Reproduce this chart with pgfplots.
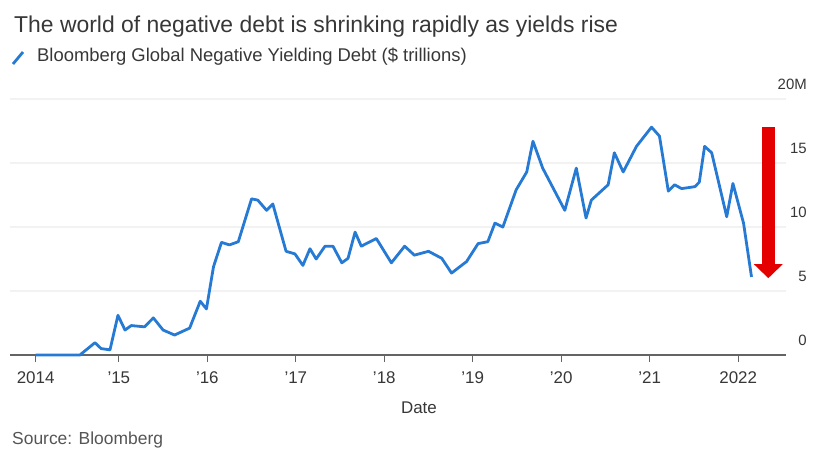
\documentclass[border=0pt]{standalone}
\usepackage{pgfplots}
\pgfplotsset{compat=1.18}
\usepackage{fontspec}
\setmainfont{Liberation Sans}
\usetikzlibrary{arrows.meta}
\definecolor{bbblue}{RGB}{38,122,212}
\definecolor{bbred}{RGB}{228,0,0}
\definecolor{txt}{RGB}{55,55,55}
\definecolor{axisgray}{RGB}{100,100,100}

\pgfplotstableread{
date value
2014.06 0.0
2014.56 0.0
2014.73 0.96
2014.80 0.5
2014.90 0.4
2014.99 3.1
2015.07 1.95
2015.14 2.3
2015.29 2.2
2015.39 2.9
2015.50 1.95
2015.63 1.56
2015.80 2.1
2015.92 4.2
2015.99 3.6
2016.07 6.9
2016.16 8.8
2016.25 8.6
2016.35 8.85
2016.50 12.2
2016.57 12.1
2016.67 11.3
2016.74 11.8
2016.89 8.1
2016.99 7.9
2017.08 7.0
2017.16 8.3
2017.23 7.5
2017.33 8.5
2017.42 8.5
2017.52 7.2
2017.59 7.55
2017.67 9.6
2017.74 8.5
2017.91 9.1
2018.08 7.2
2018.23 8.5
2018.34 7.8
2018.50 8.1
2018.65 7.55
2018.76 6.4
2018.93 7.3
2019.06 8.7
2019.17 8.85
2019.25 10.3
2019.34 10.0
2019.49 12.9
2019.61 14.3
2019.68 16.7
2019.79 14.6
2020.04 11.3
2020.17 14.6
2020.28 10.7
2020.34 12.1
2020.53 13.3
2020.60 15.8
2020.70 14.3
2020.85 16.3
2021.02 17.8
2021.11 17.1
2021.21 12.8
2021.28 13.3
2021.36 13.0
2021.51 13.15
2021.56 13.5
2021.62 16.3
2021.70 15.8
2021.87 10.8
2021.94 13.4
2022.06 10.3
2022.15 6.1
}\debt

\begin{document}
\begin{tikzpicture}[x=1bp,y=1bp]
\useasboundingbox (0,0) rectangle (817,450);
\node[anchor=west, inner sep=0pt, text=txt, font=\fontsize{23}{27}\selectfont] at (14,423) {The world of negative debt is shrinking rapidly as yields rise};
\draw[bbblue, line width=2.8bp] (13,386) -- (23,398);
\node[anchor=west, inner sep=0pt, text=txt, font=\fontsize{18.5}{21}\selectfont] at (37,393) {Bloomberg Global Negative Yielding Debt (\$ trillions)};
\node[anchor=west, inner sep=0pt, text=txt!85, font=\fontsize{17.5}{20}\selectfont] at (12,10) {Source: Bloomberg};
\begin{axis}[
  at={(10bp,95bp)}, anchor=south west,
  scale only axis, width=776bp, height=256bp,
  xmin=2013.77, xmax=2022.54, ymin=0, ymax=20,
  clip=false,
  axis x line*=bottom, axis y line*=right,
  x axis line style={draw=axisgray, line width=1.4bp, -},
  y axis line style={draw=none},
  xtick={2014.06,2015,2016,2017,2018,2019,2020,2021,2022},
  xticklabels={2014,{'}15,{'}16,{'}17,{'}18,{'}19,{'}20,{'}21,2022},
  ytick={0,5,10,15,20},
  yticklabels={0,5,10,15,20M},
  tick align=outside,
  major tick length=7bp,
  xtick style={draw=axisgray, line width=1.2bp},
  ytick style={draw=none},
  ymajorgrids, grid style={draw=gray!10, line width=1.2bp},
  xticklabel style={text=txt, font=\fontsize{17}{20}\selectfont, yshift=-6bp},
  yticklabel style={text=txt, font=\fontsize{15}{18}\selectfont, anchor=south east, inner sep=0pt, xshift=14bp, yshift=9bp},
  /pgf/number format/assume math mode=true,
  xlabel={Date},
  x label style={at={(axis description cs:0.527,0)}, anchor=center, yshift=-53bp, text=txt, font=\fontsize{17}{20}\selectfont},
]
\addplot[bbblue, line width=2.8bp, line join=round] table[x=date, y=value] {\debt};
\draw[bbred, line width=13bp, -{Triangle[width=28bp,length=14bp]}] (axis cs:2022.34,17.8) -- (axis cs:2022.34,6.0);
\end{axis}
\end{tikzpicture}
\end{document}
